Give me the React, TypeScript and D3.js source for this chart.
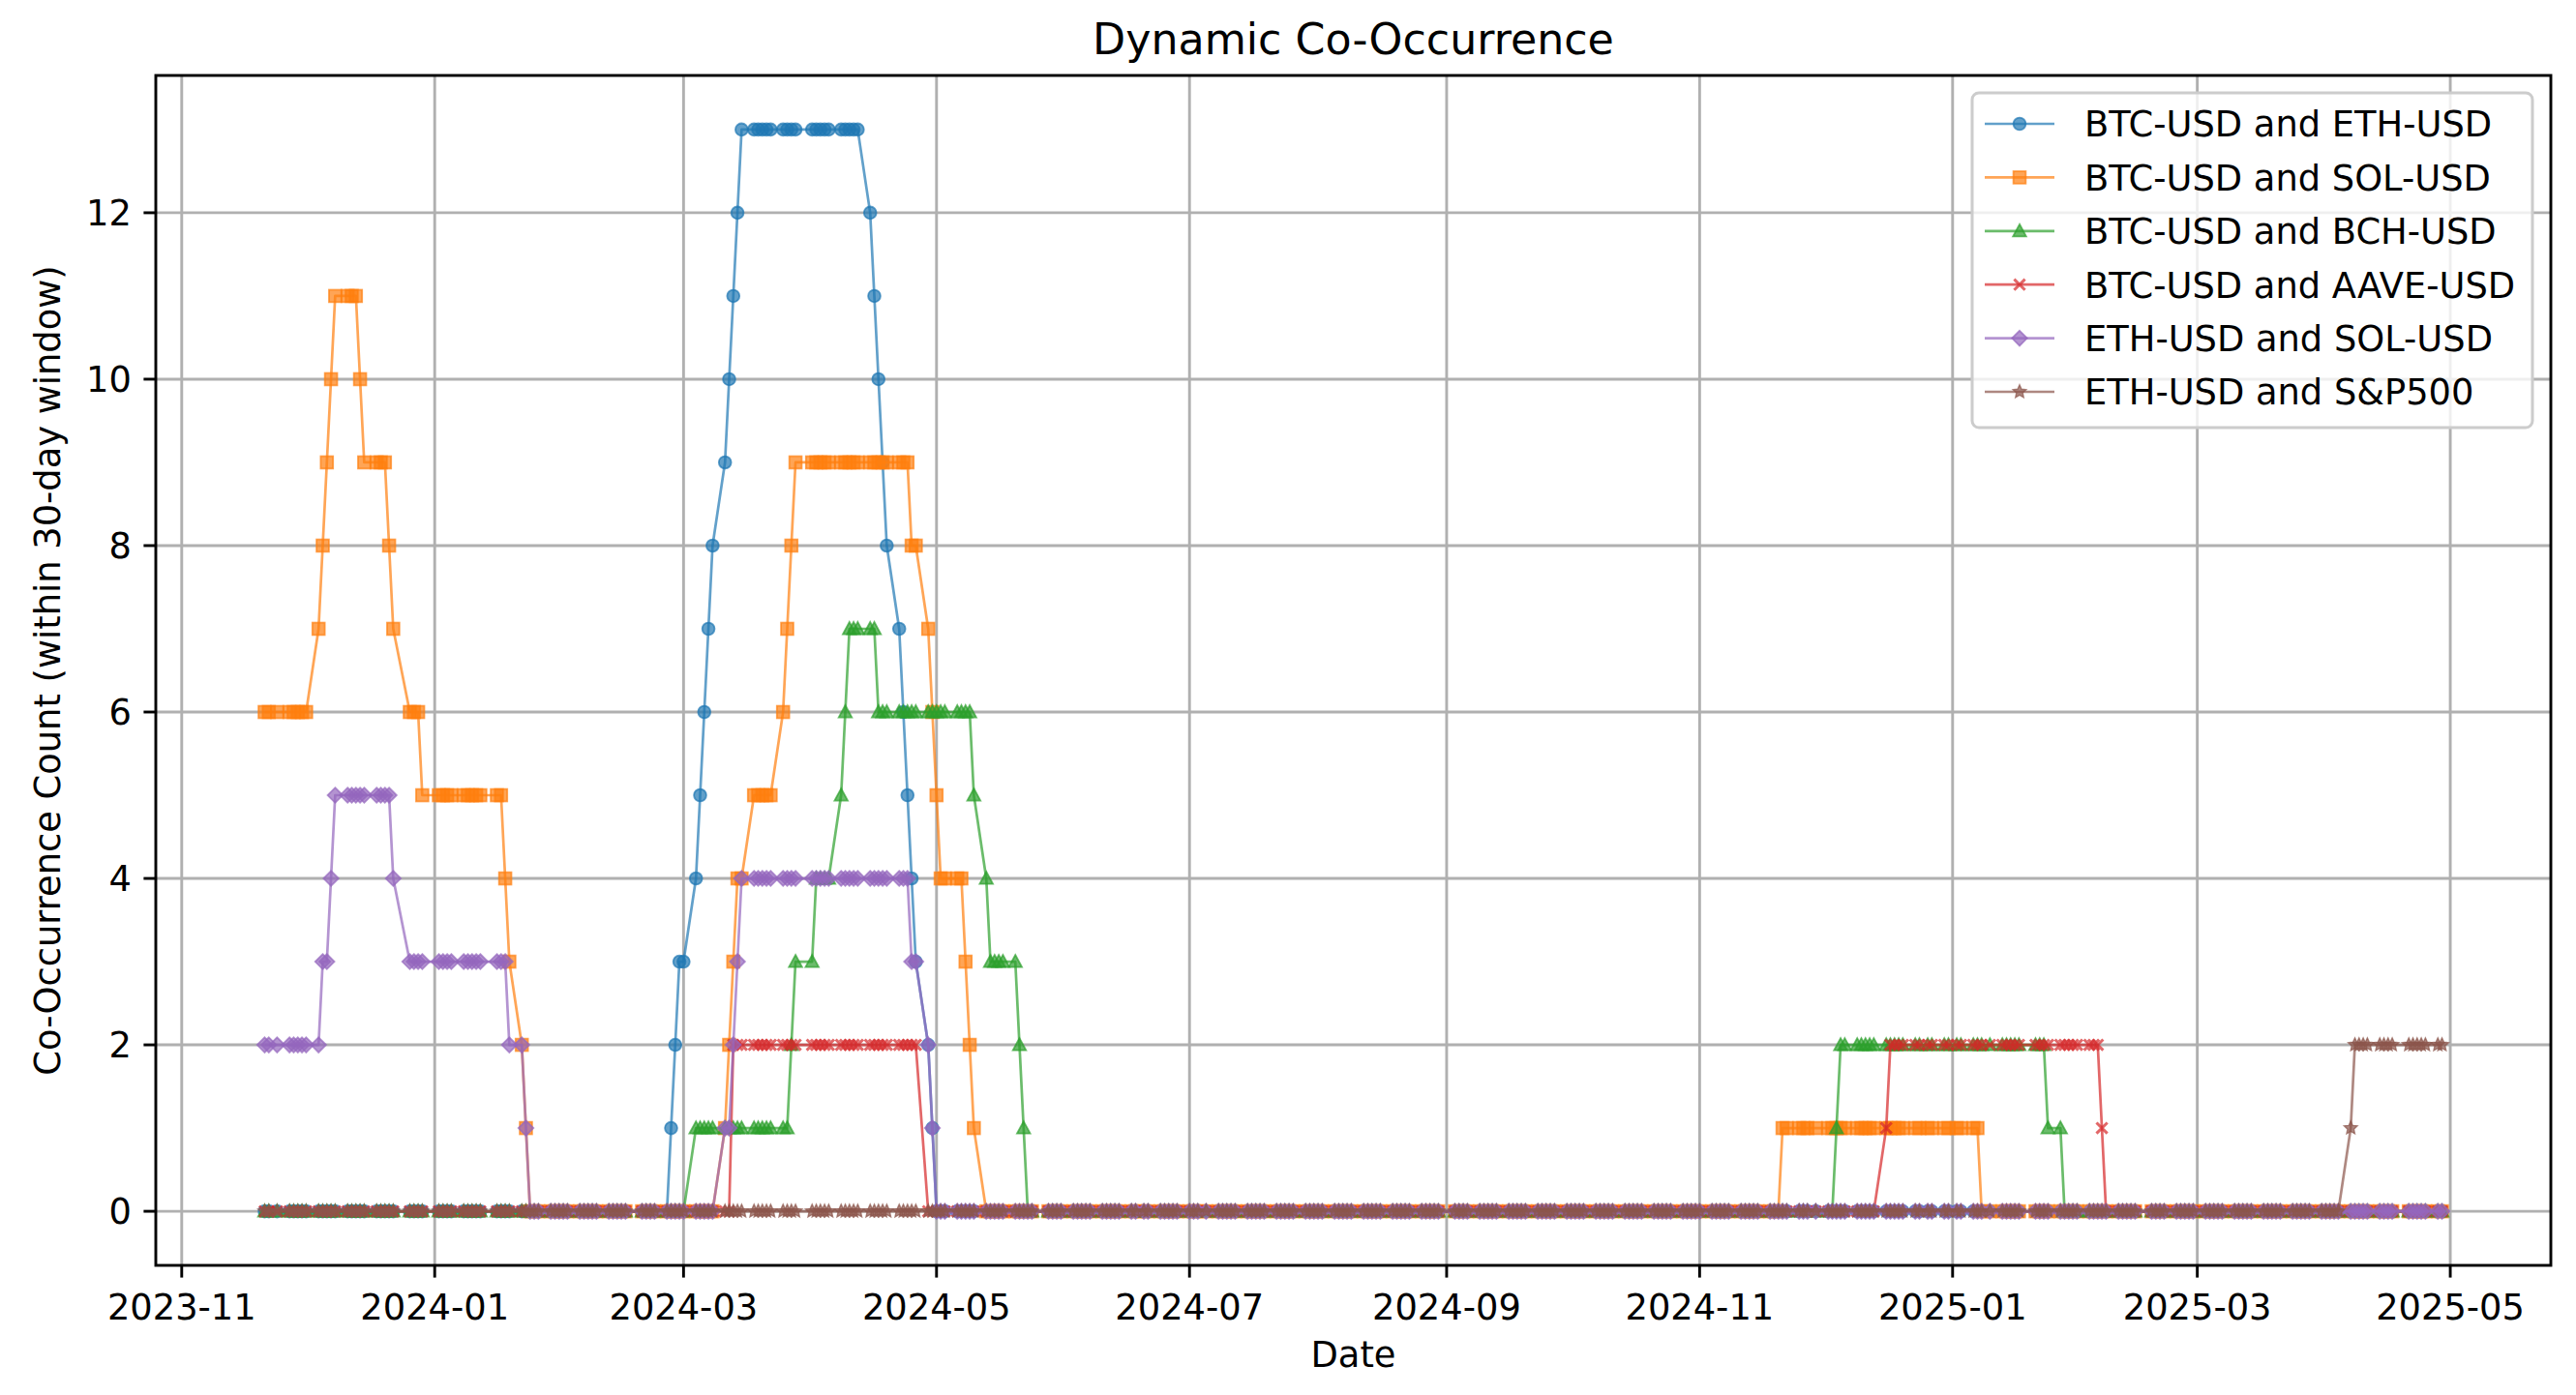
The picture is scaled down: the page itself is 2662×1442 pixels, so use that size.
import React from 'react';
import * as d3 from 'd3';

// ---------- data ----------
const START_DATE = '2023-11-21';
const END_DATE = '2025-04-29';
// NYSE closures inside the range (dates are the trading days of the merged data)
const MARKET_HOLIDAYS = [
  '2023-11-23', '2023-12-25', '2024-01-01', '2024-01-15', '2024-02-19', '2024-03-29',
  '2024-05-27', '2024-06-19', '2024-07-04', '2024-09-02', '2024-11-28', '2024-12-25',
  '2025-01-01', '2025-01-09', '2025-01-20', '2025-02-17', '2025-04-18',
];

const X_TICKS = ['2023-11-01', '2024-01-01', '2024-03-01', '2024-05-01', '2024-07-01', '2024-09-01', '2024-11-01', '2025-01-01', '2025-03-01', '2025-05-01'];
const Y_TICKS = [0, 2, 4, 6, 8, 10, 12];

const SERIES_LABELS = ['BTC-USD and ETH-USD', 'BTC-USD and SOL-USD', 'BTC-USD and BCH-USD', 'BTC-USD and AAVE-USD', 'ETH-USD and SOL-USD', 'ETH-USD and S&P500'];

// change points: [first date with this value, value]
const btcEth: [string, number][] = [
  ['2023-11-21', 0], ['2024-02-27', 1], ['2024-02-28', 2], ['2024-02-29', 3], ['2024-03-04', 4], ['2024-03-05', 5],
  ['2024-03-06', 6], ['2024-03-07', 7], ['2024-03-08', 8], ['2024-03-11', 9], ['2024-03-12', 10], ['2024-03-13', 11],
  ['2024-03-14', 12], ['2024-03-15', 13], ['2024-04-15', 12], ['2024-04-16', 11], ['2024-04-17', 10], ['2024-04-18', 9],
  ['2024-04-19', 8], ['2024-04-22', 7], ['2024-04-23', 6], ['2024-04-24', 5], ['2024-04-25', 4], ['2024-04-26', 3],
  ['2024-04-29', 2], ['2024-04-30', 1], ['2024-05-01', 0],
];
const btcSol: [string, number][] = [
  ['2023-11-21', 6], ['2023-12-04', 7], ['2023-12-05', 8], ['2023-12-06', 9], ['2023-12-07', 10], ['2023-12-08', 11],
  ['2023-12-14', 10], ['2023-12-15', 9], ['2023-12-21', 8], ['2023-12-22', 7], ['2023-12-26', 6], ['2023-12-29', 5],
  ['2024-01-18', 4], ['2024-01-19', 3], ['2024-01-22', 2], ['2024-01-23', 1], ['2024-01-24', 0],
  ['2024-03-11', 1], ['2024-03-12', 2], ['2024-03-13', 3], ['2024-03-14', 4], ['2024-03-18', 5], ['2024-03-25', 6],
  ['2024-03-26', 7], ['2024-03-27', 8], ['2024-03-28', 9], ['2024-04-25', 8], ['2024-04-29', 7], ['2024-04-30', 6],
  ['2024-05-01', 5], ['2024-05-02', 4], ['2024-05-08', 3], ['2024-05-09', 2], ['2024-05-10', 1], ['2024-05-13', 0],
  ['2024-11-21', 1], ['2025-01-08', 0],
];
const btcBch: [string, number][] = [
  ['2023-11-21', 0], ['2024-03-04', 1], ['2024-03-27', 2], ['2024-03-28', 3], ['2024-04-02', 4], ['2024-04-08', 5],
  ['2024-04-09', 6], ['2024-04-10', 7], ['2024-04-17', 6], ['2024-05-10', 5], ['2024-05-13', 4], ['2024-05-14', 3],
  ['2024-05-21', 2], ['2024-05-22', 1], ['2024-05-23', 0], ['2024-12-04', 1], ['2024-12-05', 2], ['2025-01-24', 1],
  ['2025-01-28', 0],
];
const btcAave: [string, number][] = [
  ['2023-11-21', 0], ['2024-03-13', 2], ['2024-04-29', 0], ['2024-12-16', 1], ['2024-12-17', 2], ['2025-02-06', 1],
  ['2025-02-07', 0],
];
const ethSol: [string, number][] = [
  ['2023-11-21', 2], ['2023-12-05', 3], ['2023-12-07', 4], ['2023-12-08', 5], ['2023-12-22', 4], ['2023-12-26', 3],
  ['2024-01-19', 2], ['2024-01-23', 1], ['2024-01-24', 0], ['2024-03-11', 1], ['2024-03-13', 2], ['2024-03-14', 3],
  ['2024-03-15', 4], ['2024-04-25', 3], ['2024-04-29', 2], ['2024-04-30', 1], ['2024-05-01', 0],
];
const ethSp500: [string, number][] = [
  ['2023-11-21', 0], ['2025-04-07', 1], ['2025-04-08', 2],
];

const SERIES_CHANGES = [btcEth, btcSol, btcBch, btcAave, ethSol, ethSp500];
const SERIES_COLORS = ['#1f77b4', '#ff7f0e', '#2ca02c', '#d62728', '#9467bd', '#8c564b'];
const SERIES_MARKERS = ['o', 's', '^', 'x', 'D', '*'];

// ---------- layout ----------
const W = 2662;
const H = 1442;
const L = 161, R = 2636, T = 78, B = 1308;
const FONT = "'DejaVu Sans', 'Liberation Sans', sans-serif";
const ALPHA = 0.7;
const FS = 36.8;

const parse = d3.utcParse('%Y-%m-%d');
const fmt = d3.utcFormat('%Y-%m-%d');

function tradingDays(): Date[] {
  const hol = new Set(MARKET_HOLIDAYS);
  const out: Date[] = [];
  let d = parse(START_DATE)!;
  const end = parse(END_DATE)!;
  while (d <= end) {
    const dow = d.getUTCDay();
    if (dow !== 0 && dow !== 6 && !hol.has(fmt(d))) out.push(d);
    d = d3.utcDay.offset(d, 1);
  }
  return out;
}

function expand(changes: [string, number][], days: Date[]) {
  const cps = changes.map(([s, v]) => [parse(s)!.getTime(), v] as [number, number]);
  return days.map((d) => {
    let v = cps[0][1];
    for (const [t, val] of cps) {
      if (t <= d.getTime()) v = val;
      else break;
    }
    return { date: d, value: v };
  });
}

function Marker({ kind, x, y, color }: { kind: string; x: number; y: number; color: string }) {
  const common = { fill: color, fillOpacity: ALPHA, stroke: color, strokeOpacity: ALPHA, strokeWidth: 1.8 };
  switch (kind) {
    case 'o':
      return <circle cx={x} cy={y} r={6.4} {...common} />;
    case 's':
      return <rect x={x - 6.4} y={y - 6.4} width={12.8} height={12.8} {...common} />;
    case '^':
      return <path d={`M${x},${y - 7}L${x + 6.8},${y + 5.6}L${x - 6.8},${y + 5.6}Z`} {...common} />;
    case 'x':
      return (
        <path d={`M${x - 5.6},${y - 5.6}L${x + 5.6},${y + 5.6}M${x - 5.6},${y + 5.6}L${x + 5.6},${y - 5.6}`}
          stroke={color} strokeOpacity={ALPHA} strokeWidth={3} fill="none" />
      );
    case 'D':
      return <path d={`M${x},${y - 7.8}L${x + 7.8},${y}L${x},${y + 7.8}L${x - 7.8},${y}Z`} {...common} />;
    case '*': {
      const pts: string[] = [];
      for (let i = 0; i < 10; i++) {
        const r = i % 2 === 0 ? 7.2 : 3.4;
        const a = -Math.PI / 2 + (i * Math.PI) / 5;
        pts.push(`${x + r * Math.cos(a)},${y + r * Math.sin(a)}`);
      }
      return <path d={`M${pts.join('L')}Z`} {...common} strokeWidth={1.4} />;
    }
    default:
      return null;
  }
}

export default function App() {
  React.useEffect(() => {
    document.body.style.margin = '0';
    document.body.style.overflow = 'hidden';
  }, []);

  const days = tradingDays();
  const d0 = days[0].getTime();
  const d1 = days[days.length - 1].getTime();
  const span = d1 - d0;
  const x = d3.scaleUtc().domain([new Date(d0 - 0.05 * span), new Date(d1 + 0.05 * span)]).range([L, R]);
  const y = d3.scaleLinear().domain([-0.65, 13.65]).range([B, T]);

  const series = SERIES_CHANGES.map((c) => expand(c, days));
  const line = d3.line<{ date: Date; value: number }>().x((d) => x(d.date)).y((d) => y(d.value));

  const xTicks = X_TICKS.map((s) => parse(s)!);

  const legX = 2038, legY = 96, legW = 579, legH = 346;
  const rowY0 = 128, rowStep = 55.4;

  return (
    <svg width={W} height={H} style={{ position: 'absolute', left: 0, top: 0, background: '#fff' }} fontFamily={FONT}>
      <rect x={0} y={0} width={W} height={H} fill="#fff" />
      {/* grid */}
      <g stroke="#b0b0b0" strokeWidth={2.9}>
        {xTicks.map((t, i) => (
          <line key={`gx${i}`} x1={x(t)} x2={x(t)} y1={T} y2={B} />
        ))}
        {Y_TICKS.map((v) => (
          <line key={`gy${v}`} x1={L} x2={R} y1={y(v)} y2={y(v)} />
        ))}
      </g>
      {/* series */}
      {series.map((s, i) => (
        <g key={`s${i}`}>
          <path d={line(s) || ''} fill="none" stroke={SERIES_COLORS[i]} strokeOpacity={ALPHA} strokeWidth={2.7} strokeLinejoin="round" />
          {s.map((p, j) => (
            <Marker key={j} kind={SERIES_MARKERS[i]} x={x(p.date)} y={y(p.value)} color={SERIES_COLORS[i]} />
          ))}
        </g>
      ))}
      {/* spines */}
      <rect x={L} y={T} width={R - L} height={B - T} fill="none" stroke="#000" strokeWidth={2.9} />
      {/* x ticks */}
      <g>
        {xTicks.map((t, i) => (
          <g key={`xt${i}`}>
            <line x1={x(t)} x2={x(t)} y1={B} y2={B + 12.6} stroke="#000" strokeWidth={2.9} />
            <text x={x(t)} y={1364} textAnchor="middle" fontSize={FS} fill="#000">{X_TICKS[i].slice(0, 7)}</text>
          </g>
        ))}
      </g>
      {/* y ticks */}
      <g>
        {Y_TICKS.map((v) => (
          <g key={`yt${v}`}>
            <line x1={L - 12.6} x2={L} y1={y(v)} y2={y(v)} stroke="#000" strokeWidth={2.9} />
            <text x={L - 25.2} y={y(v) + 13.3} textAnchor="end" fontSize={FS} fill="#000">{v}</text>
          </g>
        ))}
      </g>
      {/* labels */}
      <text x={(L + R) / 2} y={56} textAnchor="middle" fontSize={44.3} fill="#000">Dynamic Co-Occurrence</text>
      <text x={(L + R) / 2} y={1413} textAnchor="middle" fontSize={FS} fill="#000">Date</text>
      <text transform={`translate(62,${(T + B) / 2}) rotate(-90)`} textAnchor="middle" fontSize={FS} fill="#000">
        Co-Occurrence Count (within 30-day window)
      </text>
      {/* legend */}
      <g>
        <rect x={legX} y={legY} width={legW} height={legH} rx={7} ry={7} fill="#fff" fillOpacity={0.8} stroke="#cccccc" strokeWidth={3} />
        {SERIES_LABELS.map((lab, i) => {
          const cy = rowY0 + i * rowStep;
          return (
            <g key={`lg${i}`}>
              <line x1={2051} x2={2123} y1={cy} y2={cy} stroke={SERIES_COLORS[i]} strokeOpacity={ALPHA} strokeWidth={2.7} />
              <Marker kind={SERIES_MARKERS[i]} x={2087} y={cy} color={SERIES_COLORS[i]} />
              <text x={2154} y={cy + 13.3} fontSize={FS} fill="#000">{lab}</text>
            </g>
          );
        })}
      </g>
    </svg>
  );
}
